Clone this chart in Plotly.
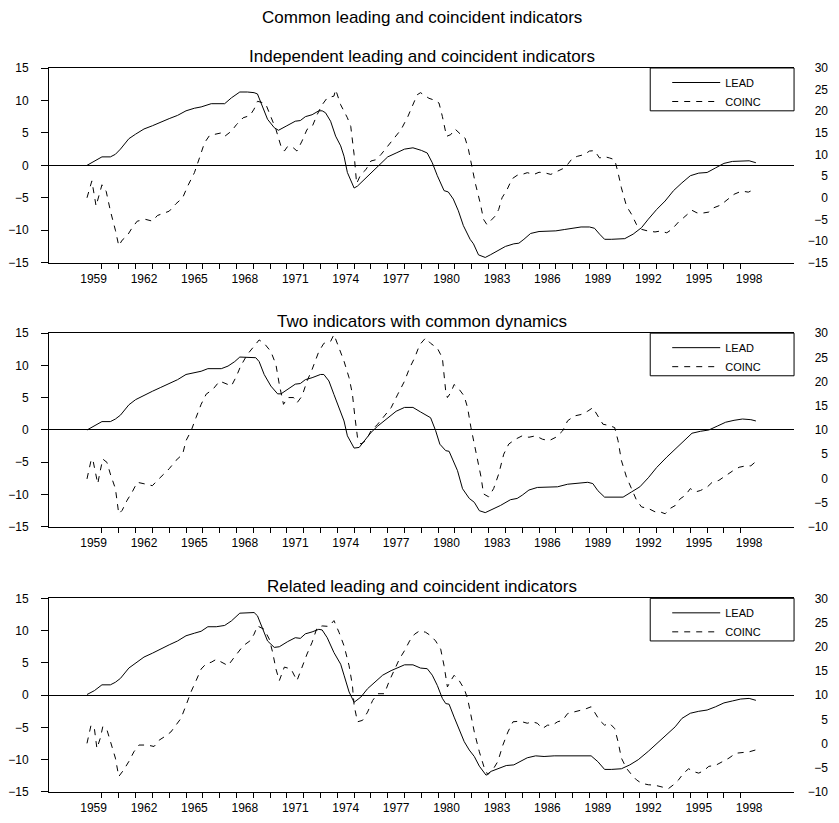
import plotly.graph_objects as go

# ---------------------------------------------------------------------------
# Data: (decimal year, value) readings for each panel.
# LEAD is on the left axis, COINC on the right axis.
# ---------------------------------------------------------------------------
lead_1 = [
    (1959.11, 0.0), (1959.55, 0.7), (1960.0, 1.3), (1960.5, 1.3), (1960.8, 1.7),
    (1961.1, 2.5), (1961.6, 4.1), (1962.0, 4.8), (1962.5, 5.6), (1963.0, 6.1),
    (1963.5, 6.7), (1964.0, 7.2), (1964.5, 7.7), (1965.0, 8.4), (1965.5, 8.8),
    (1965.9, 9.0), (1966.5, 9.5), (1966.9, 9.5), (1967.3, 9.5), (1967.7, 10.4),
    (1968.2, 11.3), (1968.65, 11.3), (1969.05, 11.2), (1969.25, 11.0), (1969.55, 9.1),
    (1969.85, 7.1), (1970.25, 5.8), (1970.5, 5.4), (1971.0, 6.1), (1971.5, 6.8),
    (1971.8, 6.9), (1972.1, 7.5), (1972.5, 7.8), (1972.9, 8.4), (1973.1, 8.4),
    (1973.3, 8.1), (1973.6, 6.8), (1973.9, 4.5), (1974.2, 3.0), (1974.4, 1.4),
    (1974.6, -1.1), (1975.0, -3.5), (1975.2, -3.2), (1975.6, -2.2), (1976.0, -1.1),
    (1976.5, 0.15), (1977.0, 1.3), (1977.5, 1.9), (1978.0, 2.5), (1978.5, 2.7),
    (1979.0, 2.3), (1979.35, 1.9), (1979.65, 0.4), (1979.95, -1.6), (1980.35, -3.9),
    (1980.6, -4.1), (1980.9, -5.2), (1981.2, -7.0), (1981.5, -9.3), (1981.9, -11.4),
    (1982.1, -12.1), (1982.4, -13.8), (1982.8, -14.2), (1983.1, -13.8), (1983.5, -13.2),
    (1984.0, -12.5), (1984.5, -12.1), (1984.8, -12.0), (1985.1, -11.4), (1985.5, -10.5),
    (1986.0, -10.2), (1986.5, -10.2), (1987.0, -10.1), (1987.5, -9.9), (1988.0, -9.7),
    (1988.5, -9.5), (1989.0, -9.5), (1989.3, -9.7), (1989.6, -10.6), (1989.9, -11.4),
    (1990.3, -11.4), (1990.7, -11.3), (1991.1, -11.3), (1991.6, -10.6), (1992.1, -9.6),
    (1992.5, -8.3), (1993.0, -6.8), (1993.5, -5.5), (1994.0, -3.9), (1994.5, -2.7),
    (1995.0, -1.6), (1995.5, -1.2), (1996.0, -1.1), (1996.5, -0.4), (1997.0, 0.3),
    (1997.5, 0.6), (1998.0, 0.7), (1998.5, 0.7), (1998.9, 0.4),
]

coinc_1 = [
    (1959.11, 0.0), (1959.4, 3.9), (1959.65, -1.9), (1960.0, 3.0), (1960.25, 1.5),
    (1960.5, -3.0), (1960.8, -7.5), (1961.0, -11.1), (1961.2, -9.8), (1961.5, -8.8),
    (1961.8, -6.9), (1962.1, -5.4), (1962.6, -5.0), (1963.0, -5.4), (1963.3, -4.1),
    (1963.7, -3.6), (1964.0, -3.1), (1964.4, -1.4), (1964.8, 0.0), (1965.1, 2.7),
    (1965.5, 5.8), (1965.8, 9.2), (1966.1, 12.7), (1966.4, 14.4), (1966.7, 14.6),
    (1967.1, 15.0), (1967.3, 14.2), (1967.7, 15.4), (1968.0, 16.9), (1968.4, 18.5),
    (1968.8, 19.0), (1969.05, 20.5), (1969.25, 22.3), (1969.55, 22.0), (1969.75, 21.6),
    (1970.05, 18.8), (1970.35, 15.8), (1970.65, 11.9), (1970.85, 10.8), (1971.05, 11.9),
    (1971.4, 11.5), (1971.6, 10.8), (1971.9, 13.1), (1972.2, 15.8), (1972.5, 16.4),
    (1972.8, 19.2), (1973.1, 21.5), (1973.4, 23.1), (1973.8, 23.5), (1973.9, 25.0),
    (1974.2, 21.5), (1974.6, 18.5), (1974.8, 16.5), (1975.0, 10.0), (1975.15, 3.3),
    (1975.4, 5.4), (1975.7, 6.5), (1976.0, 8.5), (1976.3, 8.8), (1976.6, 10.0),
    (1977.0, 11.9), (1977.5, 14.2), (1977.8, 15.8), (1978.2, 18.8), (1978.5, 21.5),
    (1978.75, 23.8), (1978.95, 24.3), (1979.25, 23.6), (1979.45, 23.0), (1979.75, 22.6),
    (1980.05, 21.9), (1980.25, 18.8), (1980.5, 14.2), (1980.75, 14.6), (1981.0, 15.9),
    (1981.3, 14.8), (1981.6, 13.8), (1981.8, 11.2), (1982.0, 7.3), (1982.2, 3.5),
    (1982.5, -1.2), (1982.7, -5.0), (1982.9, -6.2), (1983.1, -5.4), (1983.4, -4.2),
    (1983.6, -2.7), (1983.8, 0.0), (1984.1, 1.9), (1984.4, 4.4), (1984.7, 5.2),
    (1985.0, 5.4), (1985.3, 5.8), (1985.7, 5.4), (1986.0, 5.9), (1986.3, 5.8),
    (1986.7, 5.4), (1987.0, 5.9), (1987.4, 6.7), (1987.7, 7.7), (1988.0, 9.2),
    (1988.3, 9.6), (1988.7, 10.0), (1989.0, 10.8), (1989.3, 10.9), (1989.6, 9.2),
    (1989.9, 9.5), (1990.2, 9.2), (1990.5, 8.8), (1990.7, 5.8), (1990.9, 2.3),
    (1991.2, -1.9), (1991.5, -3.8), (1991.8, -6.2), (1992.1, -7.3), (1992.5, -7.7),
    (1992.9, -7.9), (1993.2, -7.7), (1993.6, -8.1), (1993.9, -7.3), (1994.3, -5.6),
    (1994.6, -4.6), (1994.9, -3.5), (1995.1, -2.9), (1995.4, -3.5), (1995.8, -3.5),
    (1996.1, -3.3), (1996.4, -2.3), (1996.8, -1.7), (1997.2, -0.4), (1997.6, 0.8),
    (1997.9, 1.3), (1998.15, 1.5), (1998.45, 1.3), (1998.75, 1.9), (1998.9, 2.1),
]

lead_2 = [
    (1959.11, 0.0), (1959.55, 0.6), (1960.0, 1.3), (1960.5, 1.3), (1960.8, 1.7),
    (1961.1, 2.3), (1961.6, 3.9), (1962.0, 4.7), (1962.5, 5.4), (1963.0, 6.0),
    (1963.5, 6.6), (1964.0, 7.2), (1964.5, 7.8), (1965.0, 8.6), (1965.5, 8.9),
    (1965.9, 9.1), (1966.3, 9.5), (1966.7, 9.5), (1967.1, 9.5), (1967.5, 9.9),
    (1967.9, 10.6), (1968.2, 11.3), (1968.65, 11.2), (1969.15, 11.2), (1969.35, 10.6),
    (1969.65, 8.6), (1970.05, 6.8), (1970.45, 5.6), (1970.65, 5.6), (1971.05, 6.3),
    (1971.5, 7.1), (1971.8, 7.2), (1972.1, 7.8), (1972.5, 8.1), (1973.0, 8.6),
    (1973.2, 8.6), (1973.5, 7.6), (1973.8, 5.5), (1974.2, 2.9), (1974.4, 1.4),
    (1974.6, -0.9), (1975.0, -2.8), (1975.3, -2.7), (1975.6, -1.7), (1976.0, -0.4),
    (1976.4, 0.6), (1977.0, 1.9), (1977.5, 2.9), (1978.0, 3.5), (1978.5, 3.5),
    (1978.95, 2.8), (1979.55, 1.9), (1979.85, -0.1), (1980.1, -2.2), (1980.45, -3.2),
    (1980.65, -3.3), (1980.85, -4.5), (1981.15, -6.3), (1981.45, -9.1), (1981.85, -10.6),
    (1982.15, -11.2), (1982.45, -12.5), (1982.8, -12.8), (1983.2, -12.3), (1983.7, -11.7),
    (1984.3, -10.8), (1984.7, -10.6), (1985.0, -10.1), (1985.4, -9.3), (1985.9, -8.9),
    (1986.5, -8.9), (1987.1, -8.8), (1987.7, -8.4), (1988.3, -8.2), (1988.9, -8.1),
    (1989.2, -8.3), (1989.5, -9.4), (1989.9, -10.4), (1990.4, -10.4), (1991.0, -10.4),
    (1991.5, -9.6), (1992.0, -8.8), (1992.5, -7.4), (1993.0, -5.8), (1993.6, -4.2),
    (1994.2, -2.7), (1994.7, -1.4), (1995.1, -0.5), (1995.6, -0.2), (1996.1, 0.0),
    (1996.6, 0.6), (1997.1, 1.2), (1997.6, 1.5), (1998.1, 1.7), (1998.6, 1.6),
    (1998.9, 1.4),
]

coinc_2 = [
    (1959.11, -0.1), (1959.35, 3.7), (1959.45, 4.0), (1959.6, 1.6), (1959.75, -1.1),
    (1959.9, 1.6), (1960.05, 4.0), (1960.3, 3.3), (1960.5, 0.9), (1960.8, -2.1),
    (1961.0, -7.3), (1961.2, -6.6), (1961.5, -4.5), (1961.8, -2.8), (1962.1, -0.8),
    (1962.5, -1.1), (1963.0, -1.5), (1963.3, -0.4), (1963.7, 0.9), (1964.0, 2.0),
    (1964.4, 3.7), (1964.8, 5.0), (1965.0, 7.8), (1965.3, 9.8), (1965.6, 12.6),
    (1965.9, 15.3), (1966.2, 17.4), (1966.6, 18.4), (1967.0, 20.1), (1967.3, 19.7),
    (1967.7, 19.1), (1968.0, 21.1), (1968.25, 23.2), (1968.65, 25.6), (1969.05, 27.3),
    (1969.35, 28.6), (1969.65, 27.9), (1970.05, 26.2), (1970.35, 23.5), (1970.55, 19.4),
    (1970.8, 15.3), (1971.05, 16.7), (1971.4, 16.7), (1971.6, 15.6), (1971.9, 17.0),
    (1972.2, 20.1), (1972.5, 22.5), (1972.9, 26.2), (1973.2, 27.9), (1973.6, 28.3),
    (1973.8, 29.7), (1974.1, 26.9), (1974.4, 24.2), (1974.7, 20.8), (1974.9, 17.4),
    (1975.05, 12.6), (1975.2, 8.5), (1975.4, 7.1), (1975.7, 7.8), (1976.0, 9.8),
    (1976.4, 11.2), (1976.8, 12.9), (1977.2, 14.6), (1977.6, 17.4), (1978.0, 20.1),
    (1978.3, 22.8), (1978.6, 24.9), (1978.9, 27.6), (1979.25, 29.0), (1979.55, 27.9),
    (1979.95, 26.9), (1980.25, 24.9), (1980.45, 18.0), (1980.55, 16.7), (1980.75, 17.7),
    (1980.95, 19.4), (1981.25, 18.4), (1981.55, 17.0), (1981.75, 14.6), (1981.95, 10.5),
    (1982.25, 5.7), (1982.55, 0.3), (1982.7, -3.2), (1983.0, -3.8), (1983.3, -2.1),
    (1983.6, 0.9), (1983.9, 5.0), (1984.2, 7.1), (1984.6, 8.1), (1985.0, 8.8),
    (1985.4, 8.5), (1985.8, 8.8), (1986.2, 8.1), (1986.6, 7.8), (1987.0, 8.5),
    (1987.4, 9.8), (1987.7, 11.9), (1988.1, 12.9), (1988.5, 13.2), (1988.9, 13.9),
    (1989.2, 14.6), (1989.5, 12.9), (1989.8, 11.2), (1990.2, 10.9), (1990.5, 10.5),
    (1990.7, 7.8), (1990.9, 3.7), (1991.2, 0.3), (1991.5, -2.1), (1991.8, -4.5),
    (1992.1, -5.9), (1992.5, -6.2), (1992.9, -6.9), (1993.2, -6.9), (1993.5, -7.3),
    (1993.8, -6.2), (1994.1, -5.6), (1994.4, -4.2), (1994.7, -3.5), (1995.0, -2.1),
    (1995.3, -2.8), (1995.6, -2.5), (1996.0, -1.8), (1996.3, -0.8), (1996.7, -0.4),
    (1997.1, 0.6), (1997.5, 1.5), (1997.9, 2.3), (1998.3, 2.6), (1998.6, 2.6),
    (1998.9, 3.5),
]

lead_3 = [
    (1959.11, 0.1), (1959.55, 0.7), (1960.0, 1.6), (1960.5, 1.6), (1960.8, 2.0),
    (1961.1, 2.6), (1961.6, 4.2), (1962.0, 5.0), (1962.5, 5.9), (1963.0, 6.5),
    (1963.5, 7.2), (1964.0, 7.8), (1964.5, 8.4), (1965.0, 9.2), (1965.5, 9.6),
    (1965.9, 9.9), (1966.3, 10.6), (1966.8, 10.6), (1967.3, 10.8), (1967.7, 11.5),
    (1968.2, 12.7), (1968.65, 12.7), (1969.05, 12.8), (1969.25, 12.3), (1969.55, 10.2),
    (1969.85, 8.4), (1970.25, 7.4), (1970.55, 7.5), (1971.05, 8.3), (1971.5, 8.9),
    (1971.8, 8.8), (1972.1, 9.5), (1972.5, 9.8), (1972.9, 10.2), (1973.1, 10.1),
    (1973.4, 8.9), (1973.8, 6.6), (1974.2, 4.8), (1974.4, 3.1), (1974.7, 0.5),
    (1975.0, -1.1), (1975.4, -0.3), (1975.8, 1.0), (1976.2, 2.0), (1976.7, 3.1),
    (1977.2, 3.8), (1977.6, 4.3), (1978.0, 4.7), (1978.5, 4.7), (1978.95, 4.2),
    (1979.35, 4.1), (1979.65, 3.1), (1979.95, 1.5), (1980.25, -0.5), (1980.45, -1.3),
    (1980.65, -1.4), (1980.95, -3.4), (1981.25, -5.2), (1981.55, -7.2), (1981.85, -8.5),
    (1982.15, -9.5), (1982.45, -11.0), (1982.85, -12.4), (1983.15, -11.8), (1983.55, -11.4),
    (1984.05, -10.9), (1984.5, -10.8), (1984.9, -10.3), (1985.3, -9.7), (1985.8, -9.4),
    (1986.3, -9.5), (1986.9, -9.4), (1987.5, -9.4), (1988.1, -9.3), (1988.7, -9.3),
    (1989.1, -9.4), (1989.5, -10.3), (1989.9, -11.5), (1990.3, -11.5), (1990.9, -11.4),
    (1991.4, -10.8), (1991.9, -10.0), (1992.5, -8.7), (1993.0, -7.5), (1993.6, -6.1),
    (1994.1, -4.9), (1994.5, -3.6), (1995.0, -2.8), (1995.5, -2.5), (1996.0, -2.3),
    (1996.5, -1.8), (1997.0, -1.2), (1997.5, -0.9), (1998.0, -0.6), (1998.5, -0.5),
    (1998.9, -0.8),
]

coinc_3 = [
    (1959.11, 0.05), (1959.35, 3.8), (1959.55, 3.1), (1959.7, -1.0), (1959.9, 1.1),
    (1960.05, 3.5), (1960.3, 2.8), (1960.5, 0.4), (1960.8, -3.0), (1961.0, -6.8),
    (1961.3, -5.4), (1961.6, -3.7), (1961.9, -1.7), (1962.2, -0.3), (1962.7, -0.3),
    (1963.1, -0.6), (1963.4, 0.7), (1963.8, 1.6), (1964.1, 2.4), (1964.4, 3.8),
    (1964.7, 5.2), (1965.0, 7.9), (1965.3, 10.7), (1965.6, 13.0), (1965.9, 15.4),
    (1966.2, 16.5), (1966.5, 16.8), (1966.8, 17.4), (1967.1, 16.8), (1967.5, 16.1),
    (1967.8, 17.5), (1968.1, 18.9), (1968.4, 20.2), (1968.8, 21.2), (1969.05, 22.6),
    (1969.25, 24.3), (1969.65, 23.6), (1969.95, 21.6), (1970.15, 18.9), (1970.35, 15.4),
    (1970.55, 13.0), (1970.85, 15.8), (1971.25, 15.4), (1971.6, 13.0), (1971.9, 15.8),
    (1972.2, 18.5), (1972.5, 20.9), (1972.8, 24.0), (1973.1, 24.3), (1973.5, 24.2),
    (1973.8, 25.4), (1974.1, 23.0), (1974.4, 20.2), (1974.7, 16.1), (1974.9, 12.0),
    (1975.0, 7.9), (1975.2, 4.5), (1975.5, 4.8), (1975.8, 6.5), (1976.1, 8.9),
    (1976.4, 10.3), (1976.8, 10.3), (1977.1, 13.0), (1977.4, 15.4), (1977.7, 17.5),
    (1978.0, 19.2), (1978.3, 21.2), (1978.6, 22.6), (1978.9, 23.3), (1979.25, 23.0),
    (1979.55, 22.3), (1979.85, 21.2), (1980.15, 19.5), (1980.35, 16.1), (1980.55, 11.7),
    (1980.75, 13.0), (1980.95, 14.1), (1981.25, 13.0), (1981.55, 11.3), (1981.75, 9.3),
    (1981.95, 5.9), (1982.15, 2.4), (1982.45, -1.7), (1982.75, -5.1), (1982.95, -6.4),
    (1983.25, -5.4), (1983.55, -3.7), (1983.85, -0.3), (1984.15, 2.4), (1984.45, 4.5),
    (1984.75, 4.6), (1985.0, 4.5), (1985.3, 4.2), (1985.6, 4.5), (1985.9, 4.2),
    (1986.2, 3.1), (1986.5, 3.8), (1986.8, 3.8), (1987.1, 4.5), (1987.4, 4.8),
    (1987.7, 6.2), (1988.1, 6.5), (1988.5, 6.9), (1988.8, 7.2), (1989.1, 7.6),
    (1989.3, 6.5), (1989.6, 4.8), (1989.9, 3.8), (1990.2, 4.2), (1990.5, 3.1),
    (1990.7, 0.4), (1990.9, -3.0), (1991.2, -5.1), (1991.5, -6.4), (1991.8, -7.5),
    (1992.1, -8.2), (1992.5, -8.5), (1992.9, -8.6), (1993.3, -9.0), (1993.7, -9.3),
    (1994.0, -8.5), (1994.3, -7.5), (1994.6, -6.1), (1994.9, -5.2), (1995.2, -5.8),
    (1995.5, -6.1), (1995.8, -5.6), (1996.1, -4.7), (1996.5, -4.5), (1996.9, -3.7),
    (1997.3, -3.0), (1997.7, -2.0), (1998.1, -1.8), (1998.5, -1.7), (1998.9, -1.3),
]

panel_titles = [
    "Independent leading and coincident indicators",
    "Two indicators with common dynamics",
    "Related leading and coincident indicators",
]
main_title = "Common leading and coincident indicators"

left_ticks = [-15, -10, -5, 0, 5, 10, 15]
right_ticks = [
    [-15, -10, -5, 0, 5, 10, 15, 20, 25, 30],
    [-10, -5, 0, 5, 10, 15, 20, 25, 30],
    [-10, -5, 0, 5, 10, 15, 20, 25, 30],
]
label_years = list(range(1959, 1999, 3))   # 1959, 1962, ..., 1998
year_ticks = list(range(1960, 1999))       # small ticks at year boundaries

series = [(lead_1, coinc_1), (lead_2, coinc_2), (lead_3, coinc_3)]

# ---------------------------------------------------------------------------
# Layout geometry
# ---------------------------------------------------------------------------
FONT = "Liberation Sans, Arial, Helvetica, sans-serif"
W, H = 839, 823
M_L, M_R, M_T, M_B = 48, 8, 68, 26
PLOT_W = W - M_L - M_R
PLOT_H = H - M_T - M_B
X_DOMAIN_END = (794 - M_L) / PLOT_W          # right frame line of each panel
X_RANGE = [1956.85, 2001.17]
TICK_FONT = dict(size=12, color="black")

# panel (top, bottom) in pixels from the top of the page
panel_px = [(68, 264), (335, 530), (602, 797)]


def frac_y(px):
    return (H - M_B - px) / PLOT_H


fig = go.Figure()
layout = dict(
    width=W, height=H,
    margin=dict(l=M_L, r=M_R, t=M_T, b=M_B, pad=0),
    paper_bgcolor="white", plot_bgcolor="white",
    font=dict(family=FONT, size=12, color="black"),
    showlegend=True,
    annotations=[], shapes=[],
)

for i, ((lead, coinc), title) in enumerate(zip(series, panel_titles)):
    n = i + 1
    xa = "x" if n == 1 else f"x{n}"
    yl = "y" if n == 1 else f"y{n}"
    ylab = f"y{n + 6}"
    leg = "legend" if n == 1 else f"legend{n}"
    top, bot = panel_px[i]
    dom = [frac_y(bot), frac_y(top)]
    rt = right_ticks[i]

    fig.add_trace(go.Scatter(
        x=[p[0] for p in lead], y=[p[1] for p in lead],
        xaxis=xa, yaxis=yl, mode="lines", name="LEAD",
        line=dict(color="black", width=1), legend=leg,
    ))
    # COINC lives on the right-hand scale (the label axis shares its range)
    fig.add_trace(go.Scatter(
        x=[p[0] for p in coinc], y=[p[1] for p in coinc],
        xaxis=xa, yaxis=ylab, mode="lines", name="COINC",
        line=dict(color="black", width=1, dash="6px,6px"), legend=leg,
    ))

    xkey = "xaxis" if n == 1 else f"xaxis{n}"
    layout[xkey] = dict(
        domain=[0, X_DOMAIN_END], anchor=yl, range=X_RANGE,
        showline=True, linecolor="black", linewidth=1, mirror=True,
        showgrid=False, zeroline=False,
        tickmode="array", tickvals=[yv + 0.5 for yv in label_years],
        ticktext=[str(yv) for yv in label_years], ticks="",
        ticklabelstandoff=5,
        tickfont=TICK_FONT,
        minor=dict(tickmode="array", tickvals=year_ticks, ticks="outside",
                   ticklen=5, tickwidth=1, tickcolor="black", showgrid=False),
    )
    ykey = "yaxis" if n == 1 else f"yaxis{n}"
    layout[ykey] = dict(
        domain=dom, anchor=xa, range=[-15, 15],
        tickmode="array", tickvals=left_ticks, ticks="outside", ticklen=7,
        tickcolor="black", showline=True, linecolor="black", linewidth=1,
        showgrid=False, zeroline=True, zerolinecolor="black", zerolinewidth=1,
        ticklabelstandoff=10,
        tickfont=TICK_FONT,
    )
    # right axis: frame line and outward ticks
    layout[f"yaxis{n + 3}"] = dict(
        overlaying=yl, side="right", anchor=xa, range=[rt[0], rt[-1]],
        tickmode="array", tickvals=rt, ticks="outside", ticklen=7,
        tickcolor="black", showline=True, linecolor="black", linewidth=1,
        showgrid=False, zeroline=False, showticklabels=False,
    )
    # right axis: labels, right-aligned near the page edge
    layout[f"yaxis{n + 6}"] = dict(
        overlaying=yl, side="left", anchor="free", position=1.0,
        range=[rt[0], rt[-1]], tickmode="array", tickvals=rt, ticks="",
        showline=False, showgrid=False, zeroline=False, showticklabels=True,
        ticklabelstandoff=3,
        tickfont=TICK_FONT,
    )

    layout[leg] = dict(
        x=(667 - M_L) / PLOT_W, xanchor="left",
        y=frac_y(top), yanchor="top",
        bgcolor="rgba(0,0,0,0)", borderwidth=0,
        font=dict(size=11, color="black"), itemwidth=48,
        tracegroupgap=0,
    )
    layout["shapes"].append(dict(
        type="rect", xref=f"{xa} domain", yref=f"{yl} domain",
        x0=(650 - 48) / 746, x1=1, y0=0.78, y1=1,
        line=dict(color="black", width=1), fillcolor="rgba(0,0,0,0)",
        layer="above",
    ))
    layout["annotations"].append(dict(
        text=title, xref=f"{xa} domain", yref="paper",
        x=0.5, y=frac_y(top - 12), xanchor="center", yanchor="middle",
        showarrow=False, font=dict(size=17, color="black"),
    ))

layout["annotations"].append(dict(
    text=main_title, xref="x domain", yref="paper",
    x=0.5, y=frac_y(17), xanchor="center", yanchor="middle",
    showarrow=False, font=dict(size=17, color="black"),
))

fig.update_layout(**layout)
fig.write_html("out.html")
